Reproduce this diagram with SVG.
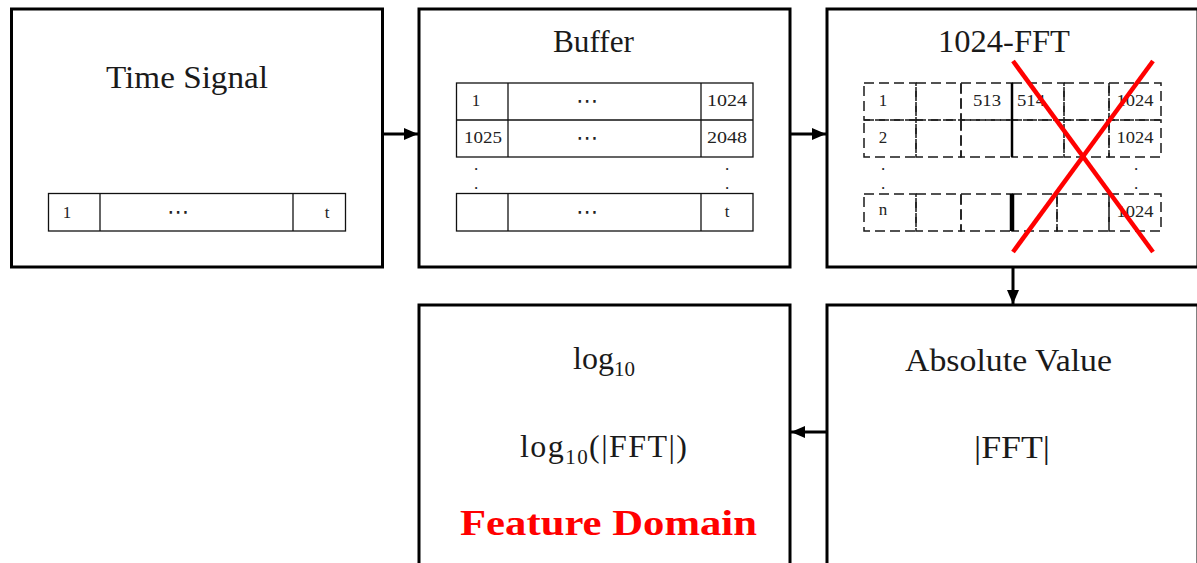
<svg xmlns="http://www.w3.org/2000/svg" width="1197" height="563" viewBox="0 0 1197 563">
  <style>
    .box { fill: #ffffff; stroke: #000000; stroke-width: 3; }
    .cell { fill: none; stroke: #111111; stroke-width: 1.3; }
    .dcell { fill: none; stroke: #1a1a1a; stroke-width: 1.5; stroke-dasharray: 10 5; }
    .title { font-family: "Liberation Serif", "Times New Roman", serif; font-size: 32px; fill: #1a1a1a; }
    .num { font-family: "Liberation Serif", "Times New Roman", serif; font-size: 17px; fill: #222222; text-anchor: middle; }
    .dots { font-family: "DejaVu Serif", "DejaVu Sans", serif; font-size: 22px; fill: #222222; text-anchor: middle; }
    .mid { text-anchor: middle; }
    .conn { stroke: #000000; stroke-width: 3; fill: none; }
    .cross { stroke: #ff0000; stroke-width: 4.5; fill: none; }
  </style>
  <defs>
    <marker id="arrow" markerUnits="userSpaceOnUse" markerWidth="14" markerHeight="12" refX="14" refY="6" orient="auto">
      <path d="M0,0 L14,6 L0,12 z" fill="#000000"/>
    </marker>
  </defs>

  <rect width="1197" height="563" fill="#ffffff"/>

  <!-- Time Signal -->
  <g id="time-signal">
    <rect class="box" x="11.5" y="9" width="371" height="258"/>
    <text class="title mid" x="187" y="88" textLength="162" lengthAdjust="spacingAndGlyphs">Time Signal</text>
    <rect class="cell" x="48.5" y="193.5" width="297" height="37.5"/>
    <line class="cell" x1="100" y1="193.5" x2="100" y2="231"/>
    <line class="cell" x1="293" y1="193.5" x2="293" y2="231"/>
    <text class="num" x="67" y="218">1</text>
    <text class="dots" x="178" y="219">⋯</text>
    <text class="num" x="327" y="218">t</text>
  </g>

  <!-- Buffer -->
  <g id="buffer">
    <rect class="box" x="419" y="9" width="371" height="258"/>
    <text class="title mid" x="593.5" y="52" textLength="81" lengthAdjust="spacingAndGlyphs">Buffer</text>
    <rect class="cell" x="456.5" y="83" width="296.5" height="74"/>
    <line class="cell" x1="456.5" y1="120" x2="753" y2="120"/>
    <line class="cell" x1="508" y1="83" x2="508" y2="157"/>
    <line class="cell" x1="701" y1="83" x2="701" y2="157"/>
    <rect class="cell" x="456.5" y="193.5" width="296.5" height="37.5"/>
    <line class="cell" x1="508" y1="193.5" x2="508" y2="231"/>
    <line class="cell" x1="701" y1="193.5" x2="701" y2="231"/>
    <text class="num" x="476" y="106">1</text>
    <text class="dots" x="587" y="108">⋯</text>
    <text class="num" x="727" y="106" textLength="40" lengthAdjust="spacingAndGlyphs">1024</text>
    <text class="num" x="483" y="143" textLength="38" lengthAdjust="spacingAndGlyphs">1025</text>
    <text class="dots" x="587" y="145">⋯</text>
    <text class="num" x="727" y="143" textLength="40" lengthAdjust="spacingAndGlyphs">2048</text>
    <text class="num" x="476" y="170">.</text>
    <text class="num" x="476" y="189">.</text>
    <text class="num" x="727" y="170">.</text>
    <text class="num" x="727" y="189">.</text>
    <text class="dots" x="587" y="219">⋯</text>
    <text class="num" x="727" y="217">t</text>
  </g>

  <!-- 1024-FFT -->
  <g id="fft">
    <rect class="box" x="827" y="9" width="371" height="258"/>
    <text class="title mid" x="1004" y="52" textLength="132" lengthAdjust="spacingAndGlyphs">1024-FFT</text>
    <!-- rows 1 and 2 -->
    <rect class="dcell" x="864" y="83" width="52" height="37"/>
    <rect class="dcell" x="916" y="83" width="45" height="37"/>
    <rect class="dcell" x="961" y="83" width="51" height="37"/>
    <rect class="dcell" x="1012" y="83" width="52" height="37"/>
    <rect class="dcell" x="1064" y="83" width="45" height="37"/>
    <rect class="dcell" x="1109" y="83" width="52" height="37"/>
    <rect class="dcell" x="864" y="120" width="52" height="37"/>
    <rect class="dcell" x="916" y="120" width="45" height="37"/>
    <rect class="dcell" x="961" y="120" width="51" height="37"/>
    <rect class="dcell" x="1012" y="120" width="52" height="37"/>
    <rect class="dcell" x="1064" y="120" width="45" height="37"/>
    <rect class="dcell" x="1109" y="120" width="52" height="37"/>
    <line x1="1012" y1="83" x2="1012" y2="157" stroke="#000" stroke-width="2.5"/>
    <!-- row n -->
    <rect class="dcell" x="864" y="194" width="52" height="37"/>
    <rect class="dcell" x="916" y="194" width="45" height="37"/>
    <rect class="dcell" x="961" y="194" width="51" height="37"/>
    <rect class="dcell" x="1012" y="194" width="45" height="37"/>
    <rect class="dcell" x="1057" y="194" width="52" height="37"/>
    <rect class="dcell" x="1109" y="194" width="52" height="37"/>
    <line x1="1012" y1="194" x2="1012" y2="231" stroke="#000" stroke-width="4.5"/>
    <text class="num" x="883" y="106">1</text>
    <text class="num" x="987" y="106" textLength="28" lengthAdjust="spacingAndGlyphs">513</text>
    <text class="num" x="1031" y="106" textLength="28" lengthAdjust="spacingAndGlyphs">514</text>
    <text class="num" x="1135" y="106" textLength="37" lengthAdjust="spacingAndGlyphs">1024</text>
    <text class="num" x="883" y="143">2</text>
    <text class="num" x="1135" y="143" textLength="37" lengthAdjust="spacingAndGlyphs">1024</text>
    <text class="num" x="883" y="170">.</text>
    <text class="num" x="883" y="189">.</text>
    <text class="num" x="1136" y="170">.</text>
    <text class="num" x="1136" y="189">.</text>
    <text class="num" x="883" y="215">n</text>
    <text class="num" x="1135" y="217" textLength="37" lengthAdjust="spacingAndGlyphs">1024</text>
    <line class="cross" x1="1013" y1="61" x2="1153" y2="252"/>
    <line class="cross" x1="1153" y1="61" x2="1013" y2="252"/>
  </g>

  <!-- Absolute Value -->
  <g id="absolute-value">
    <rect class="box" x="827" y="305" width="371" height="300"/>
    <text class="title mid" x="1008.5" y="371" textLength="207" lengthAdjust="spacingAndGlyphs">Absolute Value</text>
    <text class="title mid" x="1012" y="458" textLength="76" lengthAdjust="spacingAndGlyphs">|FFT|</text>
  </g>

  <!-- log10 -->
  <g id="log10">
    <rect class="box" x="419" y="305" width="371" height="300"/>
    <text class="title" x="573" y="369">log<tspan font-size="21" dy="7">10</tspan></text>
    <text class="title" x="520" y="457" textLength="167" lengthAdjust="spacing">log<tspan font-size="21" dy="7">10</tspan><tspan dy="-7">(|FFT|)</tspan></text>
    <text x="608.5" y="535" text-anchor="middle" font-family="Liberation Serif, serif" font-weight="bold" font-size="36" fill="#ff0000" textLength="297" lengthAdjust="spacingAndGlyphs">Feature Domain</text>
  </g>

  <!-- connectors -->
  <g id="connectors">
    <line class="conn" x1="382" y1="134" x2="418" y2="134" marker-end="url(#arrow)"/>
    <line class="conn" x1="790" y1="134" x2="826" y2="134" marker-end="url(#arrow)"/>
    <line class="conn" x1="1013" y1="267" x2="1013" y2="304" marker-end="url(#arrow)"/>
    <line class="conn" x1="827" y1="432" x2="791" y2="432" marker-end="url(#arrow)"/>
  </g>
</svg>
